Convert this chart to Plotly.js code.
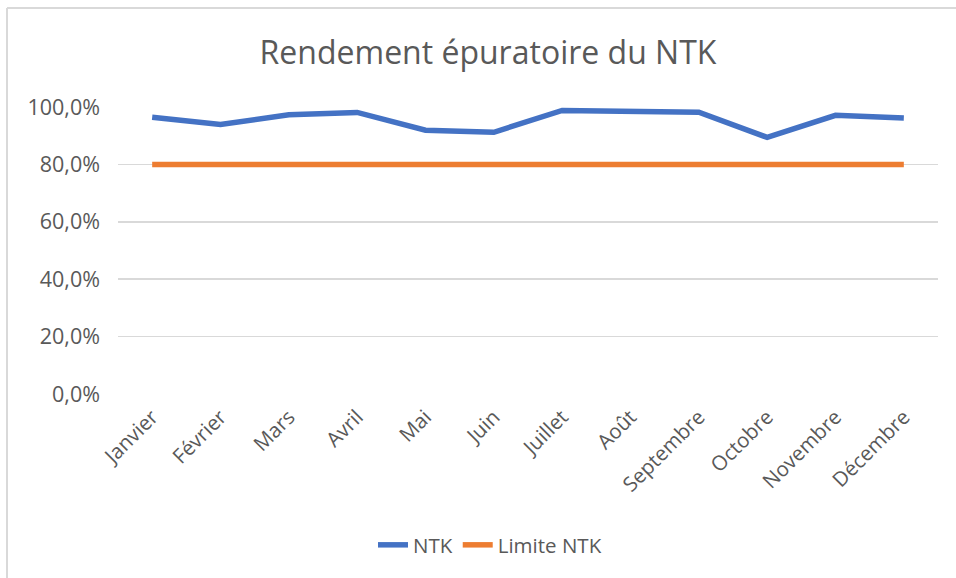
<!DOCTYPE html>
<html>
<head>
<meta charset="utf-8">
<script src="https://cdn.plot.ly/plotly-3.0.1.min.js"></script>
<style>
  html, body { margin: 0; padding: 0; background: #ffffff; }
  #chart { width: 956px; height: 578px; }
</style>
</head>
<body>
<div id="chart"></div>
<script>
// ---- Data ----
const months = ["Janvier", "Février", "Mars", "Avril", "Mai", "Juin", "Juillet", "Août", "Septembre", "Octobre", "Novembre", "Décembre"];
const ntk = [0.964, 0.939, 0.973, 0.981, 0.919, 0.912, 0.988, 0.987, 0.982, 0.894, 0.971, 0.962];
const limiteNtk = [0.8, 0.8, 0.8, 0.8, 0.8, 0.8, 0.8, 0.8, 0.8, 0.8, 0.8, 0.8];
const yTicks = [0, 0.2, 0.4, 0.6, 0.8, 1.0];

const W = 956, H = 578;
const M = { l: 118, r: 18, t: 107, b: 184 };
const pw = W - M.l - M.r, ph = H - M.t - M.b;
const px = x => (x - M.l) / pw;          // pixel -> paper x
const py = y => (H - M.b - y) / ph;      // pixel -> paper y

const textColor = "#595959";
const font = "'Open Sans', 'Noto Sans', sans-serif";

const traces = [
  {
    x: months, y: ntk, name: "NTK", type: "scatter", mode: "lines",
    line: { color: "#4472C4", width: 5.5 }, cliponaxis: false
  },
  {
    x: months, y: limiteNtk, name: "Limite NTK", type: "scatter", mode: "lines",
    line: { color: "#ED7D31", width: 5.5 }, cliponaxis: false
  }
];

const layout = {
  width: W, height: H,
  margin: M,
  paper_bgcolor: "#ffffff", plot_bgcolor: "#ffffff",
  separators: ", ",
  font: { family: font, color: textColor, size: 21 },
  title: {
    text: "Rendement épuratoire du NTK",
    font: { family: font, size: 32, color: textColor },
    x: 488 / W, xref: "container", xanchor: "center",
    y: 1 - 53 / H, yref: "container", yanchor: "middle"
  },
  xaxis: {
    type: "category",
    range: [-0.5, 11.5],
    tickangle: -45,
    showgrid: false, zeroline: false, showline: false,
    ticks: "",
    ticklabelstandoff: 6,
    tickfont: { family: font, size: 20.5, color: textColor }
  },
  yaxis: {
    range: [0, 1],
    tickvals: yTicks,
    tickformat: ".1%",
    showgrid: true, gridcolor: "#d9d9d9", gridwidth: 1.5,
    zeroline: false, showline: false, ticks: "",
    ticklabelstandoff: 17,
    tickfont: { family: font, size: 21.5, color: textColor }
  },
  showlegend: true,
  legend: {
    orientation: "h",
    x: px(490), xanchor: "center",
    y: py(545), yanchor: "middle",
    font: { family: font, size: 20.5, color: textColor },
    itemwidth: 30,
    bgcolor: "rgba(0,0,0,0)"
  },
  shapes: [
    { type: "line", xref: "paper", yref: "paper",
      x0: px(7), x1: px(956), y0: py(8), y1: py(8),
      line: { color: "#d9d9d9", width: 2 } },
    { type: "line", xref: "paper", yref: "paper",
      x0: px(7), x1: px(7), y0: py(8), y1: py(578),
      line: { color: "#d9d9d9", width: 2 } }
  ]
};

Plotly.newPlot("chart", traces, layout, { displayModeBar: false, staticPlot: true });
</script>
</body>
</html>
